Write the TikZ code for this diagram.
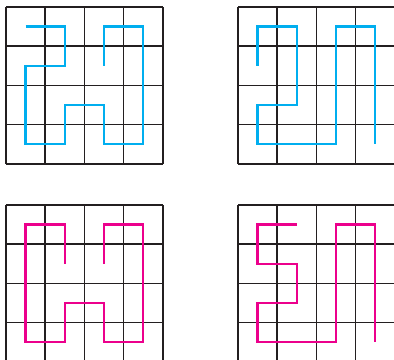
\documentclass[tikz,border=0pt]{standalone}
\usepackage{xcolor}
\usepackage{tikz}
\usetikzlibrary{calc}
\definecolor{ink}{HTML}{231F20}
\definecolor{sky}{HTML}{00AEEF}
\definecolor{rose}{HTML}{EC008C}
\begin{document}
\begin{tikzpicture}[x=1cm,y=-1cm,
 board/.style={ink,line width=1.1pt},
 walk/.style={line width=1.7pt,line join=miter,line cap=butt}]
\useasboundingbox (0,0) rectangle (10.05,9.158);
\clip (0,0) rectangle (10.05,9.158);
% top left
\begin{scope}[shift={(0.153,0.179)}]
 \draw[board] (0,0) grid (4,4);
 \draw[walk,sky] (0.5,0.5) -- (1.5,0.5) -- (1.5,1.5) -- (0.5,1.5) -- (0.5,3.5) -- (1.5,3.5) -- (1.5,2.5) -- (2.5,2.5) -- (2.5,3.5) -- (3.5,3.5) -- (3.5,0.5) -- (2.5,0.5) -- (2.5,1.5);
\end{scope}
% top right
\begin{scope}[shift={(6.071,0.179)}]
 \draw[board] (0,0) grid (4,4);
 \draw[walk,sky] (0.5,1.5) -- (0.5,0.5) -- (1.5,0.5) -- (1.5,2.5) -- (0.5,2.5) -- (0.5,3.5) -- (2.5,3.5) -- (2.5,0.5) -- (3.5,0.5) -- (3.5,3.5);
\end{scope}
% bottom left
\begin{scope}[shift={(0.153,5.23)}]
 \draw[board] (0,0) grid (4,4);
 \draw[walk,rose] (1.5,1.5) -- (1.5,0.5) -- (0.5,0.5) -- (0.5,3.5) -- (1.5,3.5) -- (1.5,2.5) -- (2.5,2.5) -- (2.5,3.5) -- (3.5,3.5) -- (3.5,0.5) -- (2.5,0.5) -- (2.5,1.5);
\end{scope}
% bottom right
\begin{scope}[shift={(6.071,5.23)}]
 \draw[board] (0,0) grid (4,4);
 \draw[walk,rose] (1.5,0.5) -- (0.5,0.5) -- (0.5,1.5) -- (1.5,1.5) -- (1.5,2.5) -- (0.5,2.5) -- (0.5,3.5) -- (2.5,3.5) -- (2.5,0.5) -- (3.5,0.5) -- (3.5,3.5);
\end{scope}
\end{tikzpicture}
\end{document}
